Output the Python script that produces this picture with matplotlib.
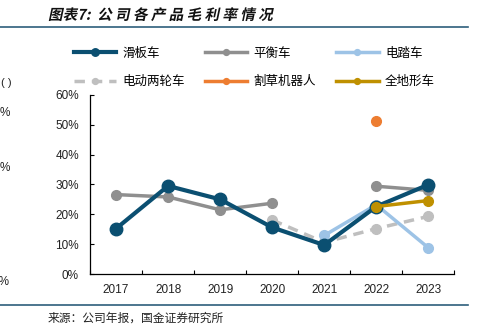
import matplotlib
matplotlib.use("Agg")
import matplotlib.pyplot as plt
from matplotlib import patheffects
from matplotlib.transforms import Affine2D
import numpy as np

plt.rcParams['font.family'] = ['Liberation Sans', 'Noto Sans CJK SC', 'DejaVu Sans']

years = ['2017', '2018', '2019', '2020', '2021', '2022', '2023']
yticks = [0, 10, 20, 30, 40, 50, 60]
nan = np.nan

# gross margin by product, %
scooter = [15.2, 29.5, 25.0, 15.6, 9.7, 22.6, 29.9]
balance = [26.6, 25.8, 21.5, 23.7, nan, 29.4, 28.0]
ebike = [nan, nan, nan, nan, 12.9, 23.2, 8.8]
e2w = [nan, nan, nan, 18.1, 10.6, 15.2, 19.3]
mower = [nan, nan, nan, nan, nan, 51.3, nan]
atv = [nan, nan, nan, nan, nan, 22.6, 24.6]


# fake italic for CJK text: skew glyphs around the text baseline
class Slant(patheffects.AbstractPathEffect):
    def __init__(self, deg=12):
        super().__init__()
        self.deg = deg

    def draw_path(self, renderer, gc, tpath, affine, rgbFace=None):
        y0 = affine.get_matrix()[1, 2]
        sk = Affine2D().translate(0, -y0).skew_deg(self.deg, 0).translate(0, y0)
        renderer.draw_path(gc, tpath, affine + sk, rgbFace)


fig = plt.figure(figsize=(4.8, 3.27), dpi=100)
ax = fig.add_axes([0.1875, 0.162, 0.759, 0.548])
x = np.arange(len(years))

h1, = ax.plot(x, scooter, color='#0b4f71', lw=3, marker='o', ms=9, label='滑板车', zorder=6)
h2, = ax.plot(x, balance, color='#8f8f8f', lw=2.5, marker='o', ms=7, label='平衡车', zorder=3)
h3, = ax.plot(x, ebike, color='#9dc3e6', lw=2.5, marker='o', ms=7, label='电踏车', zorder=4)
h4, = ax.plot(x, e2w, color='#bfbfbf', lw=2.5, ls=(0, (3, 2)), marker='o', ms=7, label='电动两轮车', zorder=2)
h5, = ax.plot(x, mower, color='#ed7d31', lw=2.5, marker='o', ms=7, label='割草机器人', zorder=5)
h6, = ax.plot(x, atv, color='#bf9000', lw=2.5, marker='o', ms=7, label='全地形车', zorder=7)

ax.set_xlim(-0.5, len(years) - 0.5)
ax.set_ylim(0, 60)
ax.set_yticks(yticks)
ax.set_yticklabels([f'{v}%' for v in yticks], fontsize=8.5, color='#222222')
ax.set_xticks(x)
ax.set_xticklabels(years, fontsize=8.5, color='#222222')
ax.set_xticks(np.arange(len(years) + 1) - 0.5, minor=True)
ax.tick_params(axis='x', which='major', length=0, pad=7)
ax.tick_params(axis='x', which='minor', direction='in', length=3, width=0.8)
ax.tick_params(axis='y', direction='in', length=3, width=0.8, pad=8)
for s in ['top', 'right']:
    ax.spines[s].set_visible(False)
for s in ['left', 'bottom']:
    ax.spines[s].set_linewidth(0.9)
    ax.spines[s].set_color('black')

handles = [h1, h4, h2, h5, h3, h6]
leg = fig.legend(handles=handles, labels=[h.get_label() for h in handles], ncol=3,
                 loc='upper left', bbox_to_anchor=(0.13, 0.889), frameon=False,
                 fontsize=9, handlelength=3.4, handletextpad=0.5, columnspacing=1.6,
                 labelspacing=1.3, markerscale=0.6)

# header and footer
fig.text(0.10, 0.955, '图表7:  公 司 各 产 品 毛 利 率 情 况', fontsize=10.5, fontweight='bold',
         family=['Noto Sans CJK SC'], va='center', color='#111111',
         path_effects=[Slant(12)])
fig.add_artist(plt.Line2D([0, 0.975], [0.917, 0.917], color='#2e5f7c', lw=1.2))
fig.add_artist(plt.Line2D([0, 0.975], [0.067, 0.067], color='#2e5f7c', lw=1.2))
fig.text(0.10, 0.027, '来源：公司年报，国金证券研究所', fontsize=8.5,
         family=['Noto Sans CJK SC'], va='center', color='#222222')

# leftover fragments at the left edge
fig.text(0.025, 0.745, '( )', fontsize=8, ha='right', va='center', color='#222222')
fig.text(0.02, 0.655, '%', fontsize=8.5, ha='right', va='center', color='#222222')
fig.text(0.02, 0.485, '%', fontsize=8.5, ha='right', va='center', color='#222222')
fig.text(0.02, 0.138, '0%', fontsize=8.5, ha='right', va='center', color='#222222')

fig.savefig('out.png', dpi=100)
